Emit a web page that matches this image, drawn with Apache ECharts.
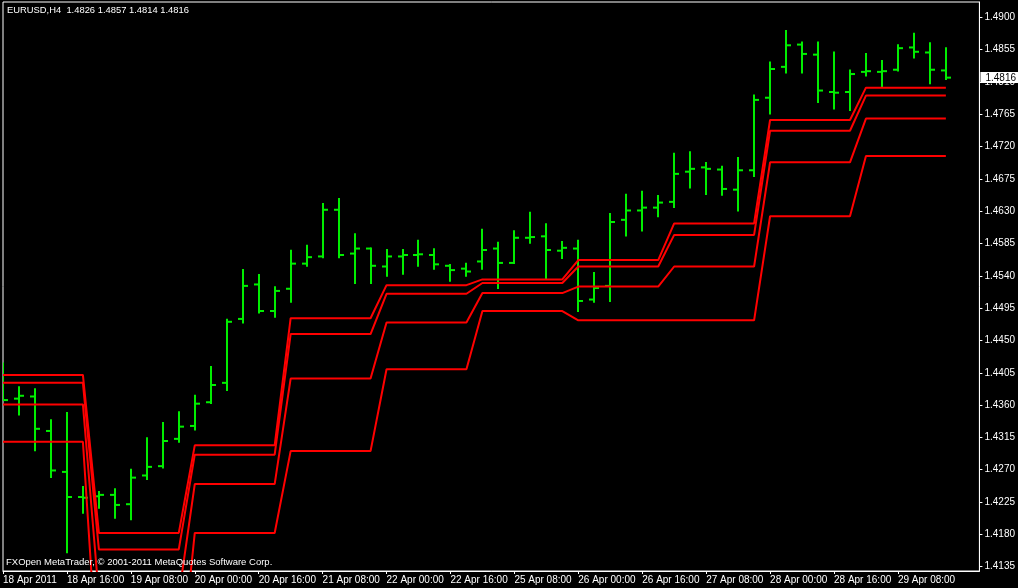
<!DOCTYPE html>
<html><head><meta charset="utf-8">
<script src="https://cdn.jsdelivr.net/npm/echarts@6/dist/echarts.min.js"></script>
<style>html,body{margin:0;padding:0;background:#000}#c{width:1018px;height:588px}</style>
</head><body><div id="c"></div>
<script>
const symbolName = 'EURUSD,H4';
const copyright = 'FXOpen MetaTrader, \u00A9 2001-2011 MetaQuotes Software Corp.';
const barIndex = [0,1,2,3,4,5,6,7,8,9,10,11,12,13,14,15,16,17,18,19,20,21,22,23,24,25,26,27,28,29,30,31,32,33,34,35,36,37,38,39,40,41,42,43,44,45,46,47,48,49,50,51,52,53,54,55,56,57,58,59];
const openP  = [1.4395,1.4369,1.4372,1.4324,1.4267,1.4232,1.4233,1.4235,1.4222,1.4262,1.4275,1.4313,1.4331,1.4364,1.4391,1.4480,1.4528,1.4491,1.4522,1.4557,1.4567,1.4632,1.4571,1.4578,1.4553,1.4567,1.4569,1.4569,1.4554,1.4550,1.4560,1.4578,1.4558,1.4593,1.4595,1.4575,1.4578,1.4507,1.4526,1.4618,1.4631,1.4635,1.4643,1.4685,1.4691,1.4688,1.4660,1.4687,1.4788,1.4831,1.4862,1.4848,1.4796,1.4796,1.4824,1.4824,1.4827,1.4858,1.4851,1.4826];
const highP  = [1.4418,1.4385,1.4382,1.4339,1.4349,1.4246,1.4239,1.4243,1.4270,1.4314,1.4335,1.4350,1.4373,1.4413,1.4479,1.4548,1.4541,1.4524,1.4575,1.4582,1.4640,1.4647,1.4598,1.4578,1.4576,1.4576,1.4589,1.4577,1.4555,1.4557,1.4604,1.4586,1.4602,1.4628,1.4612,1.4587,1.4589,1.4544,1.4626,1.4653,1.4657,1.4651,1.4710,1.4712,1.4697,1.4692,1.4704,1.4791,1.4837,1.4881,1.4865,1.4865,1.4851,1.4826,1.4849,1.4839,1.4861,1.4877,1.4864,1.4857];
const lowP   = [1.4367,1.4347,1.4297,1.4260,1.4155,1.4210,1.4217,1.4203,1.4201,1.4257,1.4273,1.4309,1.4326,1.4363,1.4381,1.4475,1.4489,1.4483,1.4504,1.4554,1.4566,1.4566,1.4530,1.4530,1.4540,1.4543,1.4554,1.4550,1.4533,1.4540,1.4550,1.4523,1.4558,1.4586,1.4537,1.4565,1.4491,1.4504,1.4505,1.4596,1.4603,1.4623,1.4636,1.4663,1.4654,1.4653,1.4631,1.4679,1.4766,1.4823,1.4823,1.4782,1.4773,1.4771,1.4819,1.4803,1.4826,1.4844,1.4808,1.4814];
const closeP = [1.4367,1.4373,1.4327,1.4269,1.4232,1.4231,1.4235,1.4221,1.4259,1.4274,1.4310,1.4330,1.4362,1.4388,1.4476,1.4526,1.4491,1.4519,1.4557,1.4566,1.4632,1.4569,1.4578,1.4554,1.4567,1.4569,1.4570,1.4556,1.4548,1.4546,1.4576,1.4558,1.4593,1.4594,1.4576,1.4579,1.4505,1.4523,1.4615,1.4631,1.4635,1.4642,1.4682,1.4689,1.4689,1.4661,1.4687,1.4785,1.4828,1.4861,1.4849,1.4798,1.4795,1.4821,1.4825,1.4825,1.4857,1.4852,1.4827,1.4816];
const lineA = [1.4402,1.4402,1.4402,1.4402,1.4402,1.4402,1.4182,1.4182,1.4182,1.4182,1.4182,1.4182,1.4304,1.4304,1.4304,1.4304,1.4304,1.4304,1.4481,1.4481,1.4481,1.4481,1.4481,1.4481,1.4527,1.4527,1.4527,1.4527,1.4527,1.4527,1.4535,1.4535,1.4535,1.4535,1.4535,1.4535,1.4562,1.4562,1.4562,1.4562,1.4562,1.4562,1.4613,1.4613,1.4613,1.4613,1.4613,1.4613,1.4757,1.4757,1.4757,1.4757,1.4757,1.4757,1.4802,1.4802,1.4802,1.4802,1.4802,1.4802];
const lineB = [1.4391,1.4391,1.4391,1.4391,1.4391,1.4391,1.4159,1.4159,1.4159,1.4159,1.4159,1.4159,1.4291,1.4291,1.4291,1.4291,1.4291,1.4291,1.4459,1.4459,1.4459,1.4459,1.4459,1.4459,1.4515,1.4515,1.4515,1.4515,1.4515,1.4515,1.4530,1.4530,1.4530,1.4530,1.4530,1.4530,1.4553,1.4553,1.4553,1.4553,1.4553,1.4553,1.4597,1.4597,1.4597,1.4597,1.4597,1.4597,1.4742,1.4742,1.4742,1.4742,1.4742,1.4742,1.4791,1.4791,1.4791,1.4791,1.4791,1.4791];
const lineC = [1.4361,1.4361,1.4361,1.4361,1.4361,1.4361,1.4094,1.4094,1.4094,1.4094,1.4094,1.4094,1.4250,1.4250,1.4250,1.4250,1.4250,1.4250,1.4397,1.4397,1.4397,1.4397,1.4397,1.4397,1.4475,1.4475,1.4475,1.4475,1.4475,1.4475,1.4516,1.4516,1.4516,1.4516,1.4516,1.4516,1.4525,1.4525,1.4525,1.4525,1.4525,1.4525,1.4553,1.4553,1.4553,1.4553,1.4553,1.4553,1.4698,1.4698,1.4698,1.4698,1.4698,1.4698,1.4759,1.4759,1.4759,1.4759,1.4759,1.4759];
const lineD = [1.4309,1.4309,1.4309,1.4309,1.4309,1.4309,1.3966,1.3966,1.3966,1.3966,1.3966,1.3966,1.4182,1.4182,1.4182,1.4182,1.4182,1.4182,1.4296,1.4296,1.4296,1.4296,1.4296,1.4296,1.4410,1.4410,1.4410,1.4410,1.4410,1.4410,1.4491,1.4491,1.4491,1.4491,1.4491,1.4491,1.4478,1.4478,1.4478,1.4478,1.4478,1.4478,1.4478,1.4478,1.4478,1.4478,1.4478,1.4478,1.4623,1.4623,1.4623,1.4623,1.4623,1.4623,1.4707,1.4707,1.4707,1.4707,1.4707,1.4707];
const xTickPos = [0,4,8,12,16,20,24,28,32,36,40,44,48,52,56];
const xTickLabels = ['18 Apr 2011','18 Apr 16:00','19 Apr 08:00','20 Apr 00:00','20 Apr 16:00','21 Apr 08:00','22 Apr 00:00','22 Apr 16:00','25 Apr 08:00','26 Apr 00:00','26 Apr 16:00','27 Apr 08:00','28 Apr 00:00','28 Apr 16:00','29 Apr 08:00'];
const yTicks = [1.4135,1.4180,1.4225,1.4270,1.4315,1.4360,1.4405,1.4450,1.4495,1.4540,1.4585,1.4630,1.4675,1.4720,1.4765,1.4810,1.4855,1.4900];

const chart = echarts.init(document.getElementById('c'), null, {renderer: 'canvas'});
const last = barIndex.length - 1;
const titleText = symbolName + '  ' + [openP[last], highP[last], lowP[last], closeP[last]].map(v => v.toFixed(4)).join(' ');
const ohlc = barIndex.map((i, k) => [i, openP[k], highP[k], lowP[k], closeP[k]]);
const font = '"Liberation Sans", Arial, sans-serif';
const green = '#00ee00';
const red = '#ff0000';

function lineSeries(name, arr) {
  return {
    name: name, type: 'line', data: barIndex.map((i, k) => [i, arr[k]]),
    showSymbol: false, symbol: 'none', clip: true, z: 3,
    lineStyle: {color: red, width: 2}, itemStyle: {color: red}, silent: true
  };
}

const option = {
  backgroundColor: '#000',
  animation: false,
  title: [
    {text: titleText, left: 7, top: 6, padding: 0, textStyle: {color: '#fff', fontSize: 9.4, fontWeight: 'normal', fontFamily: font}},
    {text: copyright, left: 6, top: 557, padding: 0, textStyle: {color: '#fff', fontSize: 9.5, fontWeight: 'normal', fontFamily: font}}
  ],
  grid: {left: 3, top: 2, right: 37.4, bottom: 17, show: true, borderColor: '#fff', borderWidth: 1, backgroundColor: 'transparent'},
  xAxis: {
    type: 'value', min: 0, max: 61.1,
    axisLine: {show: true, onZero: false, lineStyle: {color: '#fff'}},
    axisTick: {show: true, length: 3, lineStyle: {color: '#fff'}, customValues: xTickPos},
    axisLabel: {customValues: xTickPos, formatter: v => { const j = xTickPos.indexOf(Math.round(v)); return j >= 0 ? xTickLabels[j] : ''; }, color: '#fff', fontSize: 10, fontFamily: font, align: 'left', margin: 4},
    splitLine: {show: false}
  },
  yAxis: {
    type: 'value', position: 'right', min: 1.4129, max: 1.49213,
    axisLine: {show: true, onZero: false, lineStyle: {color: '#fff'}},
    axisTick: {show: true, length: 3, lineStyle: {color: '#fff'}, customValues: yTicks},
    axisLabel: {customValues: yTicks, formatter: v => v.toFixed(4), color: '#fff', fontSize: 10, fontFamily: font, margin: 5},
    splitLine: {show: false}
  },
  series: [
    {
      type: 'custom', name: 'EURUSD', data: ohlc, clip: true, z: 2, silent: true,
      encode: {x: 0, y: [1, 2, 3, 4]},
      renderItem: function (params, api) {
        const x = api.value(0);
        const pO = api.coord([x, api.value(1)]);
        const pH = api.coord([x, api.value(2)]);
        const pL = api.coord([x, api.value(3)]);
        const pC = api.coord([x, api.value(4)]);
        const px = Math.round(pH[0]);
        const st = {stroke: green, lineWidth: 2};
        return {type: 'group', children: [
          {type: 'line', shape: {x1: px, y1: pH[1] - 1, x2: px, y2: pL[1] + 1}, style: st},
          {type: 'line', shape: {x1: px - 5, y1: pO[1], x2: px, y2: pO[1]}, style: st},
          {type: 'line', shape: {x1: px, y1: pC[1], x2: px + 5, y2: pC[1]}, style: st}
        ]};
      }
    },
    lineSeries('A', lineA),
    lineSeries('B', lineB),
    lineSeries('C', lineC),
    lineSeries('D', lineD),
    {
      type: 'custom', name: 'lastPrice', data: [[barIndex[last], closeP[last]]], clip: false, z: 20, silent: true,
      encode: {x: 0, y: 1},
      renderItem: function (params, api) {
        const p = api.coord([api.value(0), api.value(1)]);
        const cs = params.coordSys;
        const x0 = cs.x + cs.width + 1;
        const y = Math.round(p[1]);
        return {type: 'group', children: [
          {type: 'rect', shape: {x: x0, y: y - 6, width: 1018 - x0, height: 11}, style: {fill: '#fff'}},
          {type: 'text', style: {x: x0 + 5, y: y, text: api.value(1).toFixed(4), fill: '#000', font: '10px "Liberation Sans", Arial, sans-serif', verticalAlign: 'middle', align: 'left'}}
        ]};
      }
    }
  ]
};
chart.setOption(option);
</script>
</body></html>
